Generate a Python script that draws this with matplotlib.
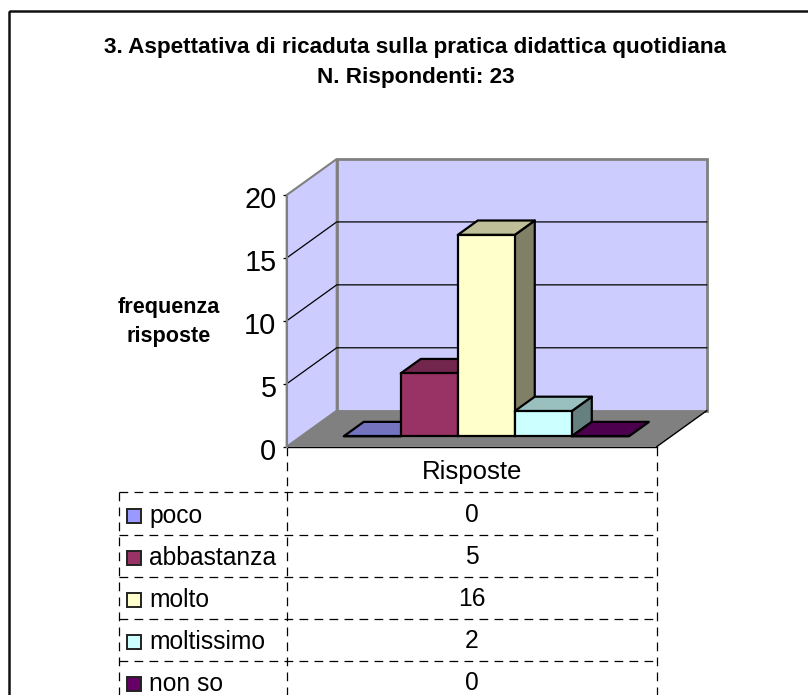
import matplotlib
matplotlib.use("Agg")
import matplotlib.pyplot as plt
from matplotlib.patches import Rectangle, Polygon
from matplotlib.transforms import ScaledTranslation

plt.rcParams["font.family"] = ["Liberation Sans", "DejaVu Sans"]

categories = ["poco", "abbastanza", "molto", "moltissimo", "non so"]
values = [0, 5, 16, 2, 0]
front_colors = ["#9999FF", "#993366", "#FFFFCC", "#CCFFFF", "#660066"]
top_colors = ["#7373BF", "#73264D", "#BFBF99", "#99BFBF", "#4D004D"]
side_colors = ["#4D4D80", "#4D1A33", "#808066", "#668080", "#330033"]
yticks = [0, 5, 10, 15, 20]
title = "3. Aspettativa di ricaduta sulla pratica didattica quotidiana\nN. Rispondenti: 23"
ylabel = "frequenza\nrisposte"
series_name = "Risposte"

W, H = 808, 695
# depth of the fake 3d box, in data units
DX = 50 / 57
DY = 36 / 12.585
d_front = 0.29
d_back = 0.69


def proj(x, v, d):
    return (x + d * DX, v + d * DY)


fig = plt.figure(figsize=(W / 100, H / 100), dpi=100, facecolor="white")

# page layer in pixels: frame, titles, table
page = fig.add_axes([0, 0, 1, 1])
page.set_xlim(0, W)
page.set_ylim(H, 0)
page.axis("off")
# frame runs off the right and bottom of the picture
page.add_patch(Rectangle((8.5, 11), 900, 800, fill=False, ec="#111111", lw=1.8))
page.text(415.5, 62.5, title, ha="center", va="center", fontsize=16.2, fontweight="bold",
          linespacing=1.55, color="black")
page.text(169, 322, ylabel, ha="center", va="center", fontsize=15.6, fontweight="bold",
          linespacing=1.55, color="black")

left, mid, right = 118.5, 286.7, 656.7
row_lines = [491.7, 535, 577.3, 619.3, 661]
dash = dict(color="black", lw=0.9, ls=(0, (7, 5)))
for y in row_lines:
    page.plot([left, right], [y, y], **dash)
page.plot([left, left], [row_lines[0], H], **dash)
page.plot([mid, mid], [447, H], **dash)
page.plot([right, right], [447, H], **dash)

page.text((mid + right) / 2, 479, series_name, ha="center", va="baseline", fontsize=18.5, color="black")
for i, cat in enumerate(categories):
    base = 522.7 + i * 42
    page.add_patch(Rectangle((126.5, base - 14), 14, 14.5, fc=front_colors[i], ec="#222222", lw=1.4))
    page.text(149, base, cat, ha="left", va="baseline", fontsize=17.7, color="black")
    page.text((mid + right) / 2, base - 1, str(values[i]), ha="center", va="baseline", fontsize=17.7, color="black")

# chart layer: data axes sit on the front plane of the box
ax = fig.add_axes([286.7 / W, (H - 446.7) / H, 370 / W, 251.7 / H])
ax.patch.set_alpha(0)
ax.set_xlim(-1.246, 5.244)
ax.set_ylim(0, 20)
x0, x1 = ax.get_xlim()
for s in ["top", "right", "bottom"]:
    ax.spines[s].set_visible(False)
ax.spines["left"].set_color("#808080")
ax.spines["left"].set_linewidth(1.5)
ax.set_xticks([])
ax.set_yticks(yticks)
ax.tick_params(axis="y", labelsize=20.8, length=2.9, width=0.9, color="black", pad=4.5)
for lab in ax.get_yticklabels():
    lab.set_transform(lab.get_transform() + ScaledTranslation(0, -2 / 100, fig.dpi_scale_trans))

# left wall, back wall, floor
ax.add_patch(Polygon([proj(x0, 0, 0), proj(x0, 0, 1), proj(x0, 20, 1), proj(x0, 20, 0)],
                     fc="#CCCCFF", ec="#808080", lw=1.5, clip_on=False, zorder=1))
ax.add_patch(Polygon([proj(x0, 0, 1), proj(x1, 0, 1), proj(x1, 20, 1), proj(x0, 20, 1)],
                     fc="#CCCCFF", ec="#808080", lw=2, clip_on=False, zorder=1))
ax.add_patch(Polygon([proj(x0, 0, 0), proj(x1, 0, 0), proj(x1, 0, 1), proj(x0, 0, 1)],
                     fc="#808080", ec="none", clip_on=False, zorder=2))
ax.plot([x0, x1], [0, 0], color="black", lw=1, clip_on=False, zorder=2)
ax.plot(*zip(proj(x1, 0, 0), proj(x1, 0, 1)), color="black", lw=1, clip_on=False, zorder=2)

# gridlines run along the left wall then the back wall
for t in yticks[1:-1]:
    pts = [proj(x0, t, 0), proj(x0, t, 1), proj(x1, t, 1)]
    ax.plot(*zip(*pts), color="black", lw=0.9, clip_on=False, zorder=2)

# bars
bw = 0.5
for i, v in enumerate(values):
    z = 3 + i
    xa, xb = i - bw, i + bw
    edge = dict(ec="black", lw=1.6, joinstyle="round", clip_on=False, zorder=z)
    ax.add_patch(Polygon([proj(xb, 0, d_front), proj(xb, 0, d_back), proj(xb, v, d_back), proj(xb, v, d_front)],
                         fc=side_colors[i], **edge))
    ax.add_patch(Polygon([proj(xa, v, d_front), proj(xb, v, d_front), proj(xb, v, d_back), proj(xa, v, d_back)],
                         fc=top_colors[i], **edge))
    ax.add_patch(Polygon([proj(xa, 0, d_front), proj(xb, 0, d_front), proj(xb, v, d_front), proj(xa, v, d_front)],
                         fc=front_colors[i], **edge))

fig.savefig("out.png", dpi=100)
